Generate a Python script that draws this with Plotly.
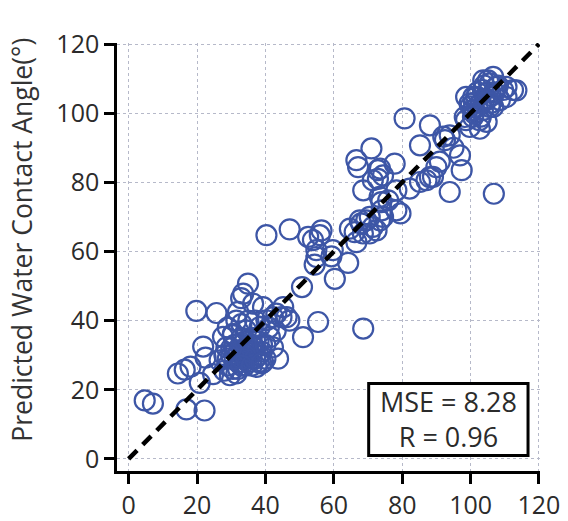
import plotly.graph_objects as go

actual = [
    4.7, 7.1, 16.9, 22.2,
    14.4, 16.4, 18.1, 20.8, 24.7, 21.8, 22.5, 19.8, 25.7,
    26.6, 29.6, 31.5, 28.0, 30.5,
    28.6, 30.5, 34.4, 38.3, 41.3, 42.2, 37.4, 27.6, 30.5,
    32, 33, 34, 35, 36, 34, 33, 35, 37, 36, 32, 31, 30, 29, 38, 39, 37, 36, 33, 31,
    35, 34, 38, 40, 39, 32, 29, 33, 36, 35, 34, 31, 30, 37, 28, 38, 40, 36, 33,
    34.9, 33.5, 32.9, 36.4, 32.0, 31.5, 39.3, 43.2, 46.2, 45.2, 44.7, 42.2, 40.3,
    55.4, 51.0, 43.7, 39.3, 38.8, 35, 37, 41, 43, 29, 33, 47,
    40.3, 47.1, 52.5, 53.9, 56.4, 55.9, 54.9, 54.9, 54.4, 59.3, 59.7, 64.2, 60.3,
    50.7, 64.7, 66.6, 68.6,
    68.0, 69.5, 71.4, 70.5, 68.5, 72.5, 74.4, 67.6, 66.1, 73.5, 70.5,
    74.0, 75.9, 73.9, 78.3, 79.5, 68.6, 78.3, 73.4,
    71.0, 66.6, 67.1, 73.5, 74.4, 72.9, 77.8, 72.9, 71.4,
    80.7, 88.1, 93.9, 92.5, 92.0, 85.2, 96.9, 97.4, 93.9, 106.8, 90.0, 88.1,
    85.2, 82.2, 87.1, 89.0, 91.0, 95.0,
    98.7, 99.8, 102.7, 104.7, 98.3, 100.7, 102.6, 99.7, 100.8, 101.7, 103.6,
    103.7, 105.1, 106.6, 105.6, 107.5, 109.5, 110.5, 112.4, 113.4, 110.5,
    108.6, 104.6, 106.6, 105.6, 100.7, 103.6, 98.7, 102, 104, 106, 107, 101,
    103, 105, 104, 102, 108, 100, 106, 103, 101,
]
predicted = [
    16.9, 16.0, 14.3, 14.0,
    24.7, 25.8, 26.7, 22.0, 24.5, 32.5, 29.3, 42.8, 42.2,
    28.5, 24.2, 24.7, 25.5, 26.0,
    32.3, 36.2, 37.2, 38.1, 35.2, 32.3, 26.6, 35.3, 35.8,
    30, 31, 32, 30, 31, 29, 33, 33, 32, 29, 28, 31, 30, 29, 30, 31, 34, 35, 35, 33,
    28, 27, 28, 29, 33, 26, 27, 29, 33, 31, 34, 29, 32, 29, 30, 34, 33, 27, 27,
    50.7, 47.8, 46.5, 44.9, 42.5, 40.0, 43.9, 42.0, 41.0, 43.9, 41.0, 41.0, 40.1,
    39.6, 35.2, 29.0, 28.0, 27.6, 40, 40, 38, 37, 38, 39, 40,
    64.7, 66.4, 64.2, 63.3, 66.1, 64.7, 60.4, 58.4, 56.2, 58.6, 60.4, 56.7, 52.1,
    49.7, 66.6, 62.7, 37.7,
    68.1, 69.0, 67.1, 65.2, 65.2, 66.1, 70.0, 69.0, 65.6, 69.0, 70.0,
    71.9, 74.8, 74.3, 71.9, 71.0, 77.7, 77.7, 75.8,
    89.8, 86.4, 84.4, 84.0, 82.0, 81.0, 85.4, 83.5, 80.6,
    98.5, 96.5, 93.6, 92.2, 93.2, 90.7, 87.8, 83.5, 77.2, 76.7, 84.4, 81.5,
    80.1, 78.2, 80.6, 81.6, 86.0, 90.0,
    98.0, 96.0, 95.5, 97.5, 98.9, 98.9, 98.0, 102.8, 104.7, 104.7, 106.7,
    109.5, 109.5, 110.5, 108.6, 107.6, 106.7, 107.6, 106.7, 106.6, 104.7,
    103.8, 103.8, 101.8, 101.8, 100.9, 100.9, 104.7, 102, 104, 105, 106, 103,
    103, 106, 108, 106, 108, 102, 103, 99, 100,
]

diag = [0, 120]
tick_vals = [0, 20, 40, 60, 80, 100, 120]
y_title = "Predicted Water Contact Angle(°)"
stats_text = "MSE = 8.28<br>R = 0.96"

blue = "#3d56a6"
font_family = "Open Sans"
text_color = "#2b2b2b"

fig = go.Figure()
fig.add_trace(go.Scatter(
    x=actual, y=predicted, mode="markers",
    marker=dict(symbol="circle-open", size=20, color=blue, line=dict(width=2.2, color=blue)),
    showlegend=False, hoverinfo="skip",
))
fig.add_trace(go.Scatter(
    x=diag, y=diag, mode="lines",
    line=dict(color="black", width=4.5, dash="12px,8px"),
    showlegend=False, hoverinfo="skip",
))

axis_common = dict(
    tickvals=tick_vals,
    showgrid=True, gridcolor="#b6b9c9", gridwidth=1, griddash="dot",
    zeroline=False, automargin=False,
    showline=True, linecolor="black", linewidth=2.5,
    ticks="outside", ticklen=10, tickwidth=2.5, tickcolor="black",
    tickfont=dict(family=font_family, size=25, color=text_color),
)

fig.update_xaxes(range=[-3.4, 120.3], **axis_common)
fig.update_yaxes(range=[-3.5, 120.3], **axis_common)

fig.add_annotation(
    xref="paper", yref="paper", x=-0.225, y=0.54,
    text=y_title, textangle=-90, showarrow=False,
    xanchor="center", yanchor="middle",
    font=dict(family=font_family, size=26.5, color="#333333"),
)

# statistics box (frame + text)
fig.add_shape(
    type="rect", xref="x", yref="y", x0=70.2, x1=116.8, y0=1.0, y1=21.8,
    line=dict(color="black", width=3), fillcolor="white", layer="above",
)
fig.add_annotation(
    xref="x", yref="y", x=93.4, y=11.6,
    text=stats_text, showarrow=False, align="center",
    xanchor="center", yanchor="middle",
    font=dict(family=font_family, size=27, color=text_color),
)

fig.update_layout(
    width=568, height=521,
    margin=dict(l=117, r=28, t=43, b=50),
    plot_bgcolor="white", paper_bgcolor="white",
)

fig.write_html("out.html")
